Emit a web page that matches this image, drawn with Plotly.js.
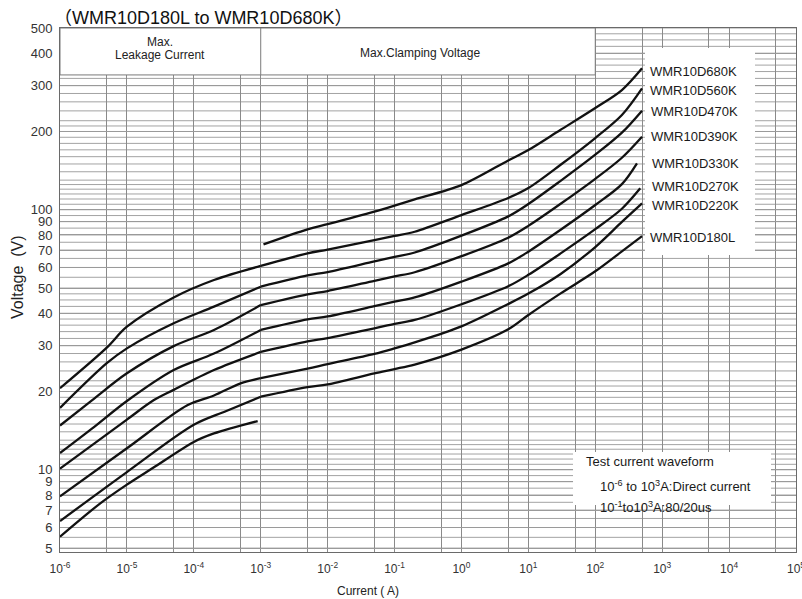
<!DOCTYPE html>
<html><head><meta charset="utf-8">
<script src="https://cdn.plot.ly/plotly-3.0.1.min.js"></script>
<style>html,body{margin:0;padding:0;background:#fff}#chart{width:802px;height:599px}</style>
</head><body><div id="chart"></div>
<script>
// ---------------- data ----------------
// Leakage-current region (DC), top line to bottom line
const leak1Current = [1e-6, 5e-6, 1e-5, 5e-5, 2e-4, 1e-3];
const leak1Voltage = [20.6, 29.5, 35.5, 46.0, 53.7, 60.8];
const leak2Current = [1e-6, 5e-6, 1e-5, 5e-5, 2e-4, 1e-3];
const leak2Voltage = [17.3, 25.7, 29.3, 36.6, 42.4, 50.6];
const leak3Current = [1e-6, 3e-6, 1e-5, 5e-5, 2e-4, 1e-3];
const leak3Voltage = [14.8, 18.5, 23.5, 29.9, 34.5, 43.0];
const leak4Current = [1e-6, 3e-6, 1e-5, 5e-5, 2e-4, 1e-3];
const leak4Voltage = [11.6, 14.4, 18.4, 24.2, 28.0, 34.5];
const leak5Current = [1e-6, 1e-5, 2.5e-5, 5e-5, 2e-4, 1e-3];
const leak5Voltage = [10.1, 15.6, 18.5, 20.3, 24.2, 28.4];
const leak6Current = [1e-6, 1e-5, 8e-5, 2e-4, 5e-4, 1e-3];
const leak6Voltage = [7.9, 12.1, 17.7, 19.3, 21.5, 22.5];
const leak7Current = [1e-6, 1e-5, 1e-4, 3e-4, 1e-3];
const leak7Voltage = [6.35, 9.8, 14.9, 16.8, 19.1];
const leak8Current = [1e-6, 4e-6, 1e-5, 2.5e-5, 1e-4, 2e-4, 9e-4];
const leak8Voltage = [5.53, 7.43, 8.77, 10.2, 12.8, 13.8, 15.4];

// Clamping-voltage region
const clampCurrent    = [1e-3, 5e-3, 1e-2, 5e-2, 0.1, 0.2, 1, 5, 10, 30, 100, 250, 500];
const clamp680Current = [1.1e-3, 5e-3, 1e-2, 5e-2, 0.1, 0.2, 1, 5, 10, 30, 100, 250, 500];
const clamp330Current = [1e-3, 5e-3, 1e-2, 5e-2, 0.1, 0.2, 1, 5, 10, 30, 100, 250, 420];
const clamp270Current = [1e-3, 5e-3, 1e-2, 5e-2, 0.1, 0.2, 1, 5, 10, 30, 100, 250, 470];
const v680K = [73.6, 84.1, 88.0, 98.3, 103.7, 109.7, 124.4, 154.8, 169.7, 202.6, 246.2, 288.7, 350];
const v560K = [60.8, 68.0, 70.3, 76.5, 79.3, 82.3, 95.4, 111.0, 121.2, 148.6, 188.7, 231.4, 293];
const v470K = [50.6, 55.9, 57.6, 63.3, 65.9, 68.5, 79.5, 94.3, 105.2, 128.9, 162.8, 197.9, 240.5];
const v390K = [43.0, 47.3, 48.7, 53.3, 55.4, 57.5, 66.3, 78.1, 86.7, 105.2, 131.5, 158.5, 190.9];
const v330K = [34.5, 37.9, 38.9, 42.6, 44.3, 46.0, 52.9, 62.2, 69.0, 83.6, 104.3, 125.5, 150.9];
const v270K = [28.4, 31.2, 32.1, 35.0, 36.4, 37.7, 43.3, 50.8, 56.2, 67.8, 84.2, 100.9, 120.9];
const v220K = [22.5, 24.5, 25.5, 27.9, 29.3, 30.9, 35.6, 43.4, 47.6, 56.5, 71.9, 89.8, 105.8];
const v180L = [19.1, 20.8, 21.3, 23.5, 24.4, 25.4, 29.0, 34.7, 39.4, 47.6, 58.0, 69.2, 79.2];

const seriesNames = ['WMR10D680K','WMR10D560K','WMR10D470K','WMR10D390K','WMR10D330K','WMR10D270K','WMR10D220K','WMR10D180L'];

// Axis ticks
const xTickVals = [1e-6,1e-5,1e-4,1e-3,1e-2,1e-1,1,10,100,1e3,1e4,1e5];
const xTickText = ['10<sup>-6</sup>','10<sup>-5</sup>','10<sup>-4</sup>','10<sup>-3</sup>','10<sup>-2</sup>','10<sup>-1</sup>','10<sup>0</sup>','10<sup>1</sup>','10<sup>2</sup>','10<sup>3</sup>','10<sup>4</sup>','10<sup>5</sup>'];
const xGridVals = [5e-6,5e-5,5e-4,5e-3,5e-2,0.5,5,50,500,5e3,5e4];
const yTickVals = [5,6,7,8,9,10,20,30,40,50,60,70,80,90,100,200,300,400,500];
const yTickText = ['5','6','7','8','9','10','20','30','40','50','60','70','80','90','100','200','300','400','500'];
const gridMantissas = [1,1.05,1.1,1.15,1.2,1.25,1.3,1.4,1.5,1.6,1.7,1.8,1.9,2,2.1,2.2,2.4,2.6,2.8,3,3.2,3.4,3.6,3.8,4,4.25,4.5,4.75,5,5.5,6,6.5,7,7.5,8,8.5,9,9.5];
const yGridVals = [];
[1,10,100].forEach(d => gridMantissas.forEach(m => { const v = m*d; if (v >= 4.85 && v <= 500) yGridVals.push(v); }));

// ---------------- chart ----------------
const FONT = '"Liberation Sans", Arial, "Noto Sans CJK SC", sans-serif';
const lineStyle = {color:'#111', width:2.3, shape:'spline', smoothing:0.9};
const mk = (x, y) => ({x, y, type:'scatter', mode:'lines', line:lineStyle, hoverinfo:'skip', showlegend:false});

const traces = [
  mk(leak1Current, leak1Voltage), mk(leak2Current, leak2Voltage), mk(leak3Current, leak3Voltage),
  mk(leak4Current, leak4Voltage), mk(leak5Current, leak5Voltage), mk(leak6Current, leak6Voltage),
  mk(leak7Current, leak7Voltage), mk(leak8Current, leak8Voltage),
  mk(clamp680Current, v680K), mk(clampCurrent, v560K), mk(clampCurrent, v470K), mk(clampCurrent, v390K),
  mk(clamp330Current, v330K), mk(clamp270Current, v270K), mk(clampCurrent, v220K), mk(clampCurrent, v180L)
];

// pixel helpers for text placement (plot area 60..796 x 28..552)
const px = x => (x - 60) / 736;
const py = y => (552 - y) / 524;
const ann = (text, x, y, o) => Object.assign({text, xref:'paper', yref:'paper', x:px(x), y:py(y), showarrow:false,
  xanchor:'left', yanchor:'middle', font:{family:FONT, size:13, color:'#1a1a1a'}}, o || {});

const labelY = [71.7, 90.7, 111.7, 136, 163.3, 186, 206, 237.3];
const labelX = [648, 648, 649, 649, 650, 650, 650, 648];

const annotations = [
  ann('（WMR10D180L to WMR10D680K）', 52, 18, {font:{family:FONT, size:18, color:'#111'}}),
  ann('Max.', 160, 41.7, {xanchor:'center', font:{family:FONT, size:12, color:'#222'}}),
  ann('Leakage Current', 160, 55, {xanchor:'center', font:{family:FONT, size:12, color:'#222'}}),
  ann('Max.Clamping Voltage', 420, 53.3, {xanchor:'center', font:{family:FONT, size:12, color:'#222'}}),
  ann('Test current waveform', 584, 461.7, {font:{family:FONT, size:13, color:'#1a1a1a'}}),
  ann('10<sup>-6</sup> to 10<sup>3</sup>A:Direct current', 598, 486, {font:{family:FONT, size:13, color:'#1a1a1a'}}),
  ann('10<sup>-1</sup>to10<sup>3</sup>A:80/20us', 598, 506.7, {font:{family:FONT, size:13, color:'#1a1a1a'}}),
  ann('Voltage  (V)', 17.5, 277.5, {xanchor:'center', textangle:-90, font:{family:FONT, size:16, color:'#222'}}),
  ann('Current ( A)', 368, 590.7, {xanchor:'center', font:{family:FONT, size:12, color:'#222'}})
];
seriesNames.forEach((n, i) => annotations.push(ann(n, labelX[i], labelY[i])));

// dense horizontal grid (drawn as shapes), then white panels over it
const shapes = yGridVals.map(v => ({type:'line', xref:'paper', yref:'y', x0:0, x1:1, y0:v, y1:v,
  line:{color:'#a3a3a3', width:1}, layer:'between'}));
shapes.push(
  // header box (Max. Leakage Current / Max. Clamping Voltage)
  {type:'rect', xref:'x', yref:'y', x0:1e-6, x1:100, y0:330, y1:500, fillcolor:'#fff', line:{color:'#7a7a7a', width:1}, layer:'between'},
  {type:'line', xref:'x', yref:'y', x0:1e-3, x1:1e-3, y0:330, y1:500, line:{color:'#7a7a7a', width:1}, layer:'between'},
  // white area behind the series labels
  {type:'rect', xref:'x', yref:'y', x0:553, x1:2.44e4, y0:67, y1:419, fillcolor:'#fff', line:{width:0}, layer:'between'},
  // white area behind the test waveform note
  {type:'rect', xref:'x', yref:'y', x0:46.5, x1:4.23e4, y0:7.33, y1:11.7, fillcolor:'#fff', line:{width:0}, layer:'between'}
);

const layout = {
  width:802, height:599,
  margin:{l:60, r:6, t:28, b:47, pad:0},
  paper_bgcolor:'#fff', plot_bgcolor:'#fff',
  showlegend:false,
  font:{family:FONT, color:'#222'},
  xaxis:{type:'log', range:[-6,5], tickmode:'array', tickvals:xTickVals, ticktext:xTickText,
    showgrid:true, gridcolor:'#8a8a8a', gridwidth:1, ticks:'', ticklabelstandoff:6, ticklabeloverflow:'allow',
    tickfont:{family:FONT, size:12, color:'#333'},
    showline:true, linecolor:'#6a6a6a', linewidth:1, mirror:true, zeroline:false, automargin:false, fixedrange:true,
    minor:{tickmode:'array', tickvals:xGridVals, showgrid:true, gridcolor:'#8a8a8a', gridwidth:1, ticks:''}},
  yaxis:{type:'log', range:[Math.log10(4.83), Math.log10(500)], tickmode:'array', tickvals:yTickVals, ticktext:yTickText,
    showgrid:true, gridcolor:'#9a9a9a', gridwidth:1, ticks:'', ticklabelstandoff:4, ticklabeloverflow:'allow',
    tickfont:{family:FONT, size:13, color:'#333'},
    showline:true, linecolor:'#6a6a6a', linewidth:1, mirror:true, zeroline:false, automargin:false, fixedrange:true},
  shapes, annotations
};

Plotly.newPlot('chart', traces, layout, {staticPlot:true, displayModeBar:false});
</script>
</body></html>
